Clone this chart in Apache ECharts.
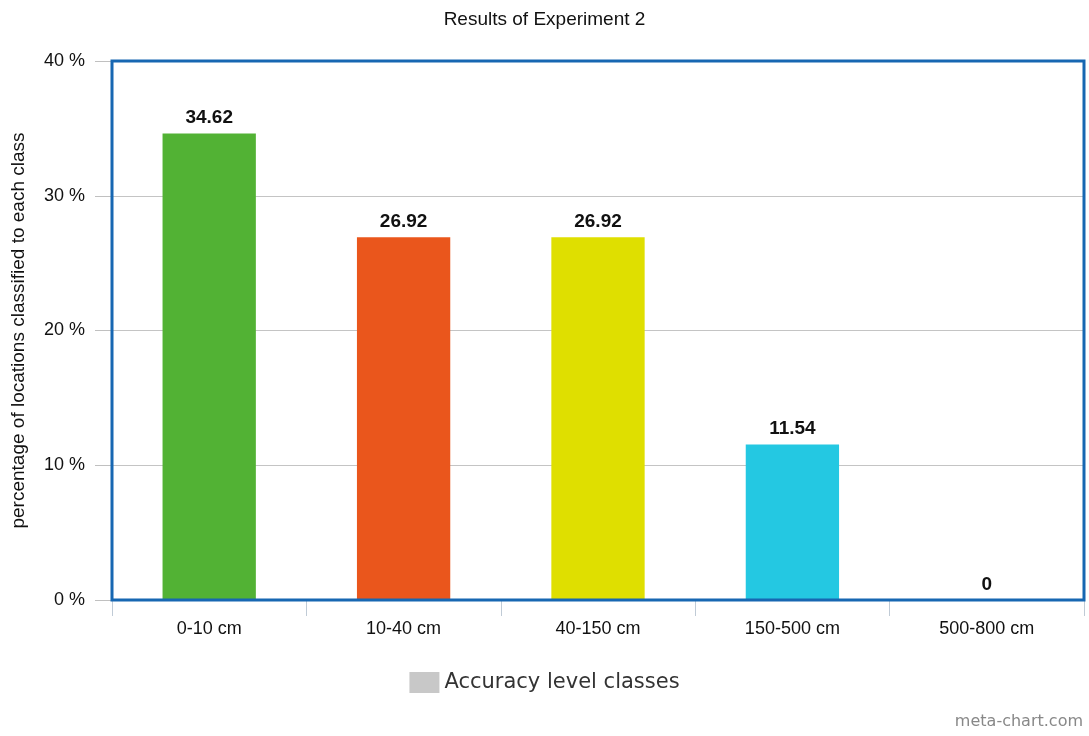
<!DOCTYPE html>
<html>
<head>
<meta charset="utf-8">
<script src="https://cdn.jsdelivr.net/npm/echarts@6/dist/echarts.min.js"></script>
<style>
  html, body { margin: 0; padding: 0; background: #fff; }
  #chart { width: 1089px; height: 736px; }
</style>
</head>
<body>
<div id="chart"></div>
<script>
// Accuracy classes and the share of locations in each
const categories = ['0-10 cm', '10-40 cm', '40-150 cm', '150-500 cm', '500-800 cm'];
const values = [34.62, 26.92, 26.92, 11.54, 0];
const barColors = ['#52b234', '#ea561c', '#dfdf00', '#24c8e2', '#8a5fc4'];
const seriesName = 'Accuracy level classes';

const chart = echarts.init(document.getElementById('chart'));

chart.setOption({
  backgroundColor: '#ffffff',
  animation: false,
  title: {
    text: 'Results of Experiment 2',
    left: 'center',
    top: 5,
    textStyle: { fontFamily: 'Liberation Sans, Arial', fontSize: 19, fontWeight: 'normal', color: '#111' }
  },
  grid: {
    left: 112, right: 5, top: 61, bottom: 136,
    show: true,
    z: 10,
    borderColor: '#1767b2',
    borderWidth: 3,
    backgroundColor: 'transparent'
  },
  legend: {
    bottom: 38,
    left: 'center',
    icon: 'rect',
    itemWidth: 30,
    itemHeight: 21,
    itemGap: 10,
    data: [{ name: seriesName, itemStyle: { color: '#c8c8c8' } }],
    textStyle: { fontFamily: 'DejaVu Sans', fontSize: 21, color: '#333' }
  },
  xAxis: {
    type: 'category',
    data: categories,
    boundaryGap: true,
    axisLine: { show: true, lineStyle: { color: '#c0cbd6', width: 1 } },
    axisTick: { show: true, alignWithLabel: false, length: 16, lineStyle: { color: '#c0cbd6' } },
    axisLabel: { fontFamily: 'Liberation Sans, Arial', fontSize: 18, color: '#111', margin: 20 }
  },
  yAxis: {
    type: 'value',
    min: 0,
    max: 40,
    interval: 10,
    name: 'percentage of locations classified to each class',
    nameLocation: 'middle',
    nameGap: 84,
    nameTextStyle: { fontFamily: 'Liberation Sans, Arial', fontSize: 19, color: '#111' },
    axisLine: { show: false },
    axisTick: { show: true, length: 17, lineStyle: { color: '#c0c0c0' } },
    axisLabel: { formatter: '{value} %', fontFamily: 'Liberation Sans, Arial', fontSize: 18, color: '#111', margin: 27 },
    splitLine: { show: true, lineStyle: { color: '#c4c4c4', width: 1 } }
  },
  series: [{
    name: seriesName,
    type: 'bar',
    barWidth: '48%',
    itemStyle: { color: '#c8c8c8' },
    data: values.map((v, i) => ({ value: v, itemStyle: { color: barColors[i] } })),
    label: {
      show: true,
      position: 'top',
      distance: 6,
      fontFamily: 'Liberation Sans, Arial',
      fontSize: 19,
      fontWeight: 'bold',
      color: '#111'
    }
  }],
  graphic: [{
    type: 'text',
    right: 6,
    bottom: 6,
    style: { text: 'meta-chart.com', fontFamily: 'DejaVu Sans', fontSize: 16, fill: '#888' }
  }]
});
</script>
</body>
</html>
